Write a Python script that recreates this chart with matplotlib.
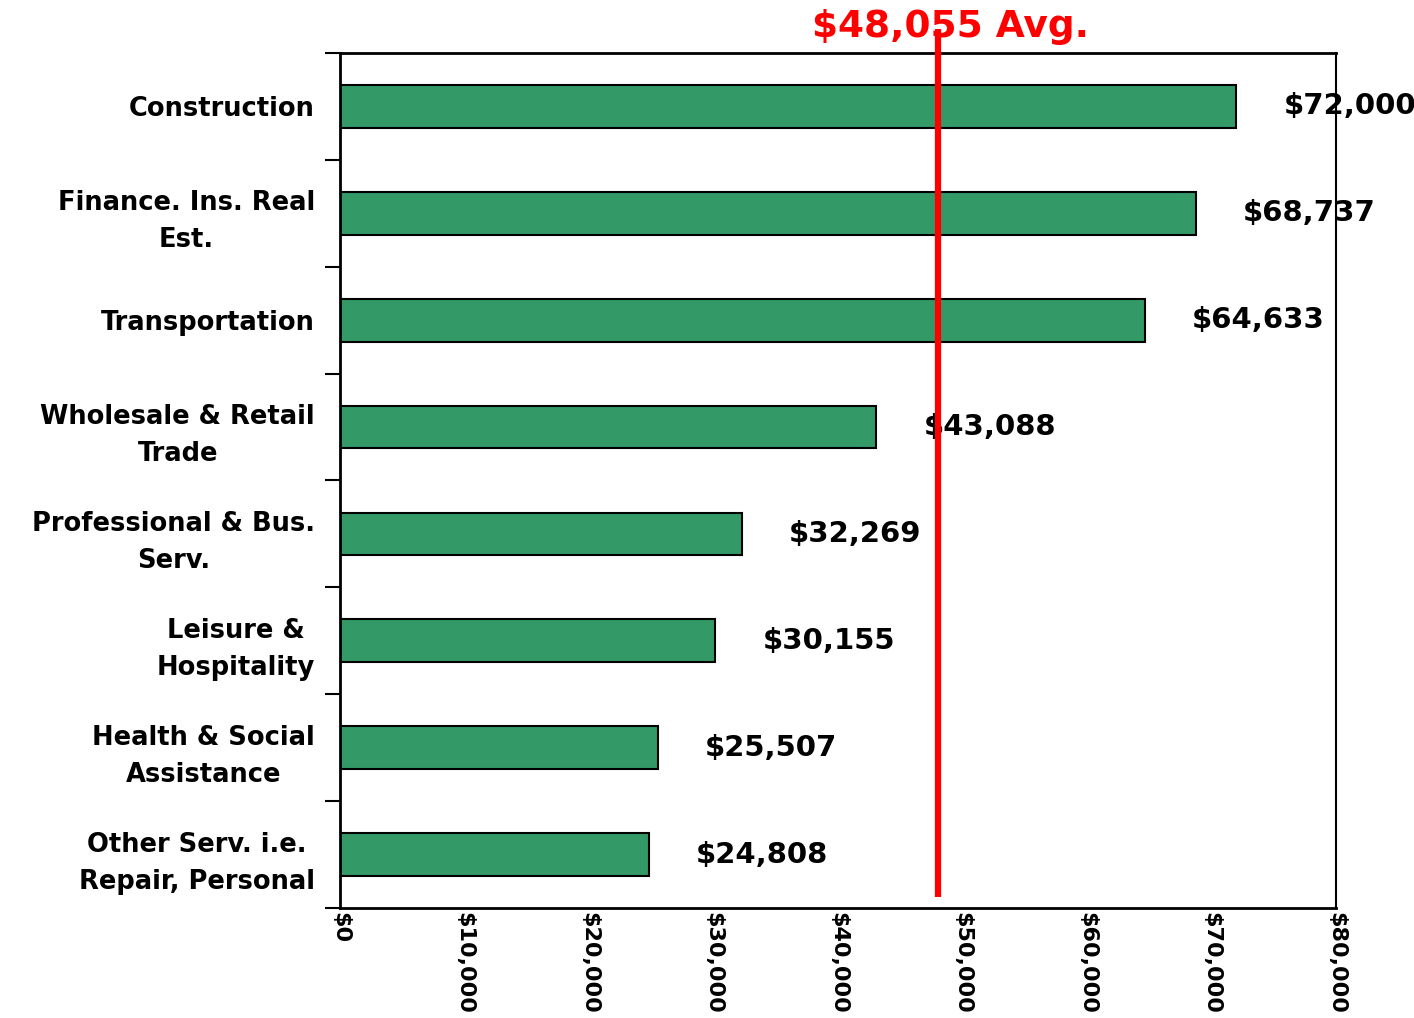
import matplotlib.pyplot as plt
import numpy as np

categories = ['Construction', 'Finance. Ins. Real\nEst.', 'Transportation',
              'Wholesale & Retail\nTrade', 'Professional & Bus.\nServ.',
              'Leisure &\nHospitality', 'Health & Social\nAssistance',
              'Other Serv. i.e.\nRepair, Personal']
wages = [72000, 68737, 64633, 43088, 32269, 30155, 25507, 24808]
avg_wage = 48055
xticks = [0, 10000, 20000, 30000, 40000, 50000, 60000, 70000, 80000]

plt.rcParams['font.family'] = ['DejaVu Sans']
plt.rcParams['font.weight'] = 'bold'

fig = plt.figure(figsize=(14.14, 10.18), dpi=100)
ax = fig.add_axes([0.2405, 0.1081, 0.7043, 0.8399])

y = np.arange(len(categories))
ax.barh(y, wages, height=0.4, color='#339966', edgecolor='black', linewidth=1.5)

ax.set_xlim(0, 80000)
ax.set_ylim(7.5, -0.5)

ax.set_xticks(xticks)
ax.set_xticklabels(['${:,}'.format(v) for v in xticks], rotation=-90,
                   fontsize=16, fontweight='bold', va='top', ha='center')
ax.tick_params(axis='x', length=0, pad=3)

ax.set_yticks(y)
ax.set_yticklabels(categories, fontsize=18.5, fontweight='bold',
                   multialignment='center', linespacing=1.55)
ax.tick_params(axis='y', which='major', length=0, pad=18)
ax.set_yticks(np.arange(-0.5, 8, 1), minor=True)
ax.tick_params(axis='y', which='minor', length=11, width=1.5, direction='out')

for s in ['left', 'top', 'bottom']:
    ax.spines[s].set_linewidth(2)
ax.spines['right'].set_linewidth(1.5)

# value labels
for yi, w in zip(y, wages):
    ax.annotate('${:,}'.format(w), xy=(w, yi), xytext=(34, 0), textcoords='offset points',
                ha='left', va='center', fontsize=21, fontweight='bold', color='black',
                annotation_clip=False)

# average line
ax.plot([avg_wage, avg_wage], [-0.72, 7.4], color='red', linewidth=4.5,
        clip_on=False, zorder=5, solid_capstyle='butt')
ax.annotate('${:,} Avg.'.format(avg_wage), xy=(avg_wage, -0.74), xytext=(9, 0),
            textcoords='offset points', ha='center', va='center', fontsize=27,
            fontweight='bold', color='red', annotation_clip=False, zorder=6)

plt.savefig('out.png', dpi=100)
